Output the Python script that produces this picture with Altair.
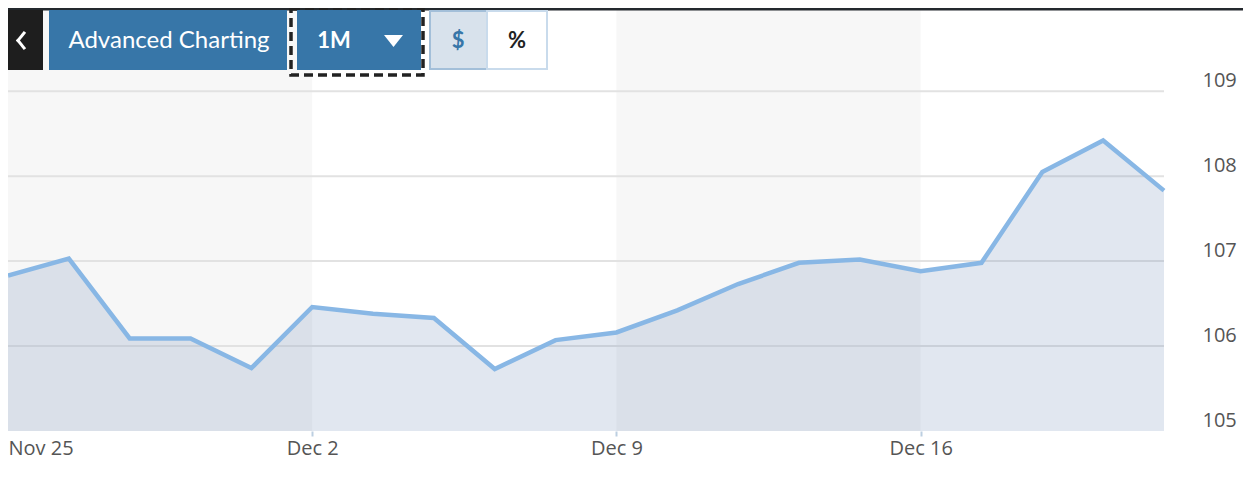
import altair as alt
import pandas as pd

# ---- data ----
dates = ["Nov 25", "Nov 26", "Nov 27", "Nov 28", "Nov 29",
         "Dec 2", "Dec 3", "Dec 4", "Dec 5", "Dec 6",
         "Dec 9", "Dec 10", "Dec 11", "Dec 12", "Dec 13",
         "Dec 16", "Dec 17", "Dec 18", "Dec 19", "Dec 20"]
prices = [106.83, 107.03, 106.09, 106.09, 105.74,
          106.46, 106.38, 106.33, 105.73, 106.07,
          106.16, 106.42, 106.73, 106.98, 107.02,
          106.88, 106.98, 108.05, 108.42, 107.83]
x_labels = ["Nov 25", "Dec 2", "Dec 9", "Dec 16"]
y_ticks = [105, 106, 107, 108, 109]
band_start = ["Nov 25", "Dec 9"]
band_end = ["Dec 2", "Dec 16"]

df = pd.DataFrame({"date": dates, "price": prices})
bands = pd.DataFrame({"start": band_start, "end": band_end})
grid = pd.DataFrame({"v": y_ticks[1:]})
one = pd.DataFrame({"k": [0]})

BLUE = "#3776a8"
FONT = "Lato"
AXFONT = "Open Sans"
W, H = 1156, 423

xscale = alt.Scale(type="point", domain=dates, padding=0)
yscale = alt.Scale(domain=[105, 109.98], nice=False, zero=False)

xaxis = alt.Axis(values=x_labels, title=None, domain=False, grid=False,
                 labelFlush=True, labelAngle=0, labelPadding=2,
                 tickSize=5, tickWidth=2, tickColor="#bccfe1",
                 tickOpacity={"condition": {"test": "datum.value === 'Nov 25'", "value": 0}, "value": 1},
                 labelFont=AXFONT, labelFontSize=20, labelColor="#555555")
yaxis = alt.Axis(values=y_ticks, orient="right", title=None, domain=False, grid=False,
                 ticks=False, tickSize=0, labelPadding=38, labelAlign="left",
                 labelOffset=-11, labelFont=AXFONT, labelFontSize=20, labelColor="#555555")

band_layer = alt.Chart(bands).mark_rect(color="#f7f7f7").encode(
    x=alt.X("start:O", scale=xscale, axis=xaxis),
    x2="end:O",
)

grid_layer = alt.Chart(grid).mark_rule(color="#e2e2e2", strokeWidth=2).encode(
    y=alt.Y("v:Q", scale=yscale, axis=yaxis),
)

area_layer = alt.Chart(df).mark_area(color="#6f8fb8", opacity=0.21).encode(
    x=alt.X("date:O", scale=xscale, axis=xaxis),
    y=alt.Y("price:Q", scale=yscale, axis=yaxis),
    y2=alt.datum(105),
)

line_layer = alt.Chart(df).mark_line(color="#88b7e5", strokeWidth=4.5, strokeJoin="miter").encode(
    x=alt.X("date:O", scale=xscale, axis=xaxis),
    y=alt.Y("price:Q", scale=yscale, axis=yaxis),
)


def box(x1, x2, y1, y2, **kw):
    return alt.Chart(one).mark_rect(**kw).encode(
        x=alt.value(x1), x2=alt.value(x2), y=alt.value(y1), y2=alt.value(y2))


def label(txt, x, y, **kw):
    return alt.Chart(one).mark_text(text=txt, align="center", baseline="alphabetic",
                                    font=FONT, **kw).encode(x=alt.value(x), y=alt.value(y))


def seg(x1, y1, x2, y2):
    return alt.Chart(one).mark_rule(color="white", strokeWidth=3, strokeCap="square").encode(
        x=alt.value(x1), y=alt.value(y1), x2=alt.value(x2), y2=alt.value(y2))


deco = [
    box(0, 1235, 0, 2.5, color="#24292e"),
    box(0, 35, 2, 62, color="#1e1e1e"),
    seg(16, 25, 10, 32.5),
    seg(10, 32.5, 16, 40),
    box(41, 279, 2, 62, color=BLUE),
    label("Advanced Charting", 161, 40, fontSize=24, color="white"),
    box(283, 415, 1, 67, filled=False, stroke="#222222", strokeWidth=3.5, strokeDash=[9, 5]),
    box(289, 413, 2, 62, color=BLUE),
    label("1M", 326, 40, fontSize=22, fontWeight="bold", color="white"),
    alt.Chart(one).mark_point(shape="M-1,-0.63L1,-0.63L0,0.63Z", filled=True, color="white",
                              opacity=1, size=361).encode(x=alt.value(385.5), y=alt.value(33)),
    box(422, 479, 3, 61, fill="#d8e2ec", stroke="#a3bfd9", strokeWidth=2),
    box(479, 539, 3, 61, fill="white", stroke="#c9dbec", strokeWidth=2),
    label("$", 450, 40, fontSize=22, fontWeight="bold", color=BLUE),
    label("%", 509, 40, fontSize=22, fontWeight="bold", color="#222222"),
]

chart = alt.layer(band_layer, grid_layer, area_layer, line_layer, *deco).properties(
    width=W, height=H, background="white",
    autosize=alt.AutoSizeParams(type="none"),
    padding={"left": 0, "top": 0, "right": 80, "bottom": 50},
).configure_view(stroke=None)

chart.save("out.html", embed_options={"renderer": "svg", "actions": False})
